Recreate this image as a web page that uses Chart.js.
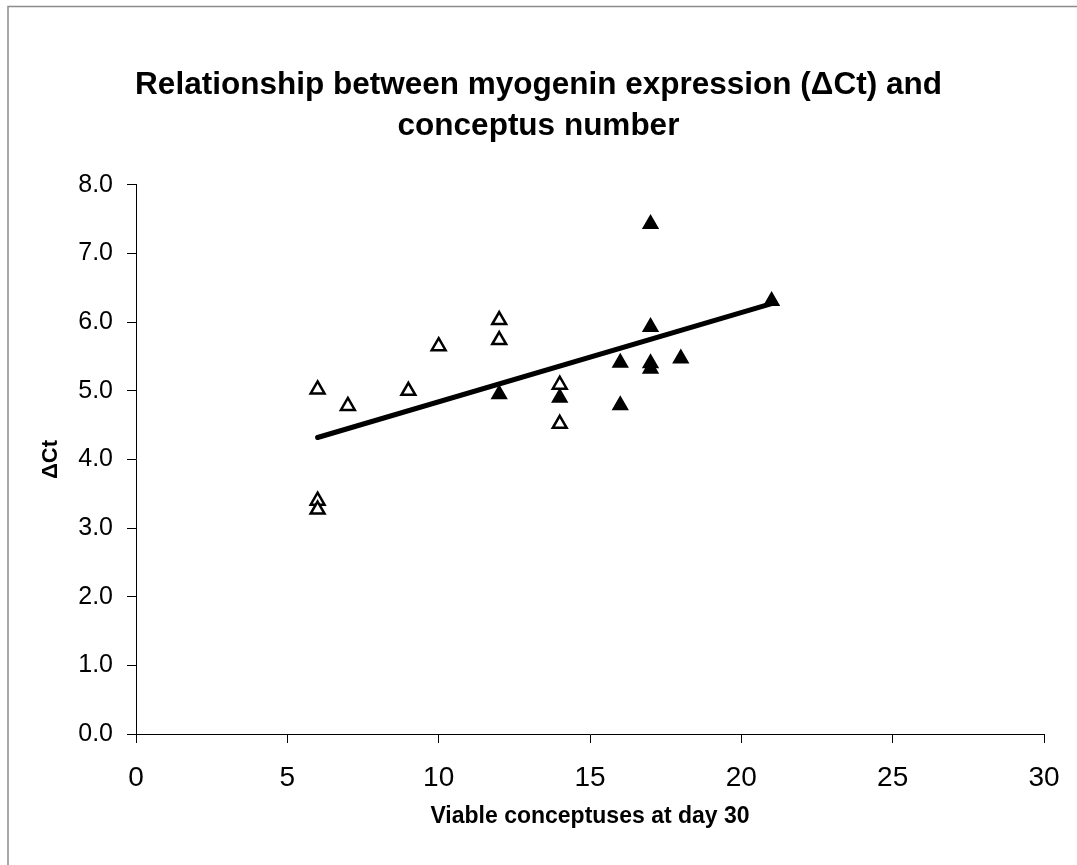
<!DOCTYPE html>
<html>
<head>
<meta charset="utf-8">
<script src="https://cdn.jsdelivr.net/npm/chart.js@4"></script>
<style>
  html, body { margin: 0; padding: 0; background: #fff; }
  #wrap { position: relative; width: 1077px; height: 865px; }
</style>
</head>
<body>
<div id="wrap"><canvas id="main-chart" width="1077" height="865"></canvas></div>
<script>
// conceptus number vs myogenin dCt
const open_x = [6, 6, 6, 7, 9, 10, 12, 12, 14, 14];
const open_y = [5.02, 3.40, 3.27, 4.78, 5.00, 5.65, 6.03, 5.74, 5.09, 4.52];
const filled_x = [12, 14, 16, 16, 17, 17, 17, 17, 18, 21];
const filled_y = [4.95, 4.90, 5.41, 4.79, 7.43, 5.93, 5.40, 5.32, 5.47, 6.31];
const trend_x = [6, 21];
const trend_y = [4.32, 6.27];
const title_lines = ['Relationship between myogenin expression (\u0394Ct) and', 'conceptus number'];
const x_title = 'Viable conceptuses at day 30';
const y_title = '\u0394Ct';

const FONT = "'Liberation Sans', Arial, sans-serif";

const to_points = (xs, ys) => xs.map((x, i) => ({ x: x, y: ys[i] }));

// frame round the chart, only top and left edges show in the scan
const frame_plugin = {
    id: 'frame',
    beforeDraw(chart) {
        const ctx = chart.ctx;
        ctx.save();
        ctx.fillStyle = '#fff';
        ctx.fillRect(0, 0, chart.width, chart.height);
        ctx.strokeStyle = '#8c8c8c';
        ctx.lineWidth = 1.5;
        ctx.beginPath();
        ctx.moveTo(8, chart.height);
        ctx.lineTo(8, 6.5);
        ctx.lineTo(chart.width, 6.5);
        ctx.stroke();
        ctx.restore();
    }
};

const config = {
    type: 'scatter',
    data: {
        datasets: [{
            label: 'trend',
            type: 'line',
            data: to_points(trend_x, trend_y),
            borderColor: '#000',
            borderWidth: 5,
            pointRadius: 0,
            borderCapStyle: 'round',
            fill: false,
            order: 2,
        }, {
            label: 'open',
            data: to_points(open_x, open_y),
            pointStyle: 'triangle',
            pointRadius: 8,
            backgroundColor: '#fff',
            borderColor: '#000',
            borderWidth: 2.5,
            order: 1,
        }, {
            label: 'filled',
            data: to_points(filled_x, filled_y),
            pointStyle: 'triangle',
            pointRadius: 8,
            backgroundColor: '#000',
            borderColor: '#000',
            borderWidth: 2,
            order: 0,
        }],
    },
    options: {
        responsive: false,
        animation: false,
        layout: { padding: 0 },
        plugins: {
            legend: { display: false },
            tooltip: { enabled: false },
            title: {
                display: true,
                text: title_lines,
                color: '#000',
                font: { family: FONT, size: 31.5, weight: 'bold', lineHeight: 1.3 },
                padding: { top: 65, bottom: 38 },
            },
        },
        scales: {
            x: {
                type: 'linear',
                min: 0,
                max: 30,
                ticks: { stepSize: 5, color: '#000', font: { family: FONT, size: 28 }, padding: 18 },
                grid: { drawOnChartArea: false, color: '#000', tickLength: 9, tickColor: '#000' },
                border: { color: '#000', width: 1 },
                title: {
                    display: true,
                    text: x_title,
                    color: '#000',
                    font: { family: FONT, size: 23, weight: 'bold' },
                    padding: { top: 0, bottom: 35 },
                },
                afterFit(scale) {
                    scale.height = 131;
                    scale.paddingRight = 33;
                },
            },
            y: {
                min: 0,
                max: 8,
                ticks: {
                    stepSize: 1,
                    color: '#000',
                    font: { family: FONT, size: 25 },
                    padding: 14,
                    callback: v => v.toFixed(1),
                },
                grid: { drawOnChartArea: false, color: '#000', tickLength: 9, tickColor: '#000' },
                border: { color: '#000', width: 1 },
                title: {
                    display: true,
                    text: y_title,
                    color: '#000',
                    font: { family: FONT, size: 22, weight: 'bold' },
                    padding: { top: 38, bottom: 0 },
                },
                afterFit(scale) { scale.width = 136; },
            },
        },
    },
    plugins: [frame_plugin],
};

new Chart(document.getElementById('main-chart'), config);
</script>
</body>
</html>
